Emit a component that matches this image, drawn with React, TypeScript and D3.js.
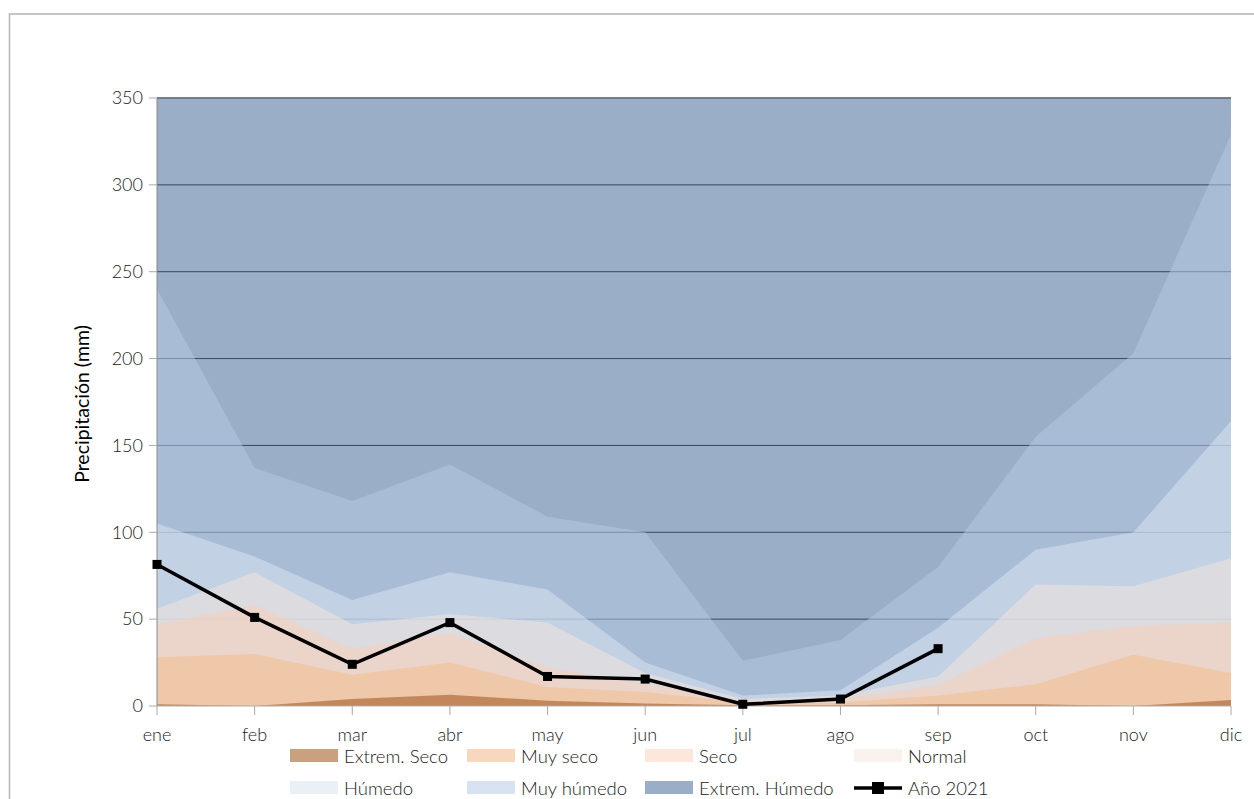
import * as d3 from 'd3';
import { useEffect, useRef } from 'react';

const months = ['ene', 'feb', 'mar', 'abr', 'may', 'jun', 'jul', 'ago', 'sep', 'oct', 'nov', 'dic'];

// upper bound of each band (mm); bands are drawn from 0 and overlap
const extremHumedo = [350, 350, 350, 350, 350, 350, 350, 350, 350, 350, 350, 350];
const muyHumedo = [240, 137, 118, 139, 109, 100, 26, 38, 80, 155, 203, 329];
const humedo = [105, 86, 61, 77, 67, 25, 6, 9, 45, 90, 100, 164];
const normal = [56, 77, 47, 53, 48, 19, 4, 6, 17, 70, 69, 85];
const seco = [47, 58, 33, 42, 22, 13, 3, 4, 12, 39, 46, 48];
const muySeco = [28, 30, 18, 25, 11, 8, 2, 2, 6, 12.5, 29.5, 19];
const extremSeco = [1, 0, 4, 6.5, 3, 1.5, 0.5, 0.5, 1, 1, 0, 3.5];
const anio2021 = [81.5, 51, 24, 48, 17, 15.5, 1, 4, 33];

const yTicks = [0, 50, 100, 150, 200, 250, 300, 350];

const WIDTH = 1254;
const HEIGHT = 799;
const FONT = 'Lato, "Open Sans", sans-serif';

const bands = [
  { name: 'Extrem. Húmedo', values: extremHumedo, color: 'rgb(87,120,163)', opacity: 0.6 },
  { name: 'Muy húmedo', values: muyHumedo, color: 'rgb(182,201,227)', opacity: 0.535 },
  { name: 'Húmedo', values: humedo, color: 'rgb(218,227,240)', opacity: 0.535 },
  { name: 'Normal', values: normal, color: 'rgb(246,229,218)', opacity: 0.5 },
  { name: 'Seco', values: seco, color: 'rgb(249,207,181)', opacity: 0.5 },
  { name: 'Muy seco', values: muySeco, color: 'rgb(242,190,147)', opacity: 0.6 },
  { name: 'Extrem. Seco', values: extremSeco, color: 'rgb(162,91,36)', opacity: 0.58 },
];

export default function App() {
  const svgRef = useRef<SVGSVGElement>(null);

  useEffect(() => {
    if (!svgRef.current) return;
    const svg = d3.select(svgRef.current);
    svg.selectAll('*').remove();

    const margin = { top: 98, right: 23, bottom: 93, left: 157 };
    const innerWidth = WIDTH - margin.left - margin.right;
    const innerHeight = HEIGHT - margin.top - margin.bottom;

    // outer frame
    svg
      .append('rect')
      .attr('x', 9.5)
      .attr('y', 14)
      .attr('width', WIDTH + 20)
      .attr('height', HEIGHT + 20)
      .attr('fill', 'none')
      .attr('stroke', '#b8b8b8')
      .attr('stroke-width', 1.6);

    const g = svg.append('g').attr('transform', `translate(${margin.left},${margin.top})`);

    const x = d3.scalePoint<string>().domain(months).range([0, innerWidth]);
    const y = d3.scaleLinear().domain([0, 350]).range([innerHeight, 0]);

    // grid lines sit under the translucent bands
    g.selectAll('.grid-line')
      .data(yTicks.filter((d) => d > 0))
      .enter()
      .append('line')
      .attr('x1', 0)
      .attr('x2', innerWidth)
      .attr('y1', (d) => y(d))
      .attr('y2', (d) => y(d))
      .attr('stroke', '#000')
      .attr('stroke-width', 1);

    const area = d3
      .area<number>()
      .x((_, i) => x(months[i]) || 0)
      .y0(y(0))
      .y1((d) => y(d));

    bands.forEach((b) => {
      g.append('path')
        .attr('d', area(b.values))
        .attr('fill', b.color)
        .attr('fill-opacity', b.opacity);
    });

    // Axes
    g.append('line')
      .attr('x1', 0)
      .attr('x2', 0)
      .attr('y1', 0)
      .attr('y2', innerHeight)
      .attr('stroke', '#8a8a8a');
    g.append('line')
      .attr('x1', 0)
      .attr('x2', innerWidth)
      .attr('y1', innerHeight)
      .attr('y2', innerHeight)
      .attr('stroke', '#b0b0b0');

    g.selectAll('.ytick')
      .data(yTicks)
      .enter()
      .append('line')
      .attr('x1', -8)
      .attr('x2', 0)
      .attr('y1', (d) => y(d))
      .attr('y2', (d) => y(d))
      .attr('stroke', '#aaa');

    g.selectAll('.ylabel')
      .data(yTicks)
      .enter()
      .append('text')
      .attr('x', -14)
      .attr('y', (d) => y(d))
      .attr('dy', '0.35em')
      .attr('text-anchor', 'end')
      .attr('fill', '#222')
      .style('font-family', FONT)
      .style('font-weight', 300)
      .style('font-size', '18px')
      .text((d) => d);

    g.selectAll('.xtick')
      .data(months)
      .enter()
      .append('line')
      .attr('x1', (d) => x(d) || 0)
      .attr('x2', (d) => x(d) || 0)
      .attr('y1', innerHeight)
      .attr('y2', innerHeight + 9)
      .attr('stroke', '#aaa');

    g.selectAll('.xlabel')
      .data(months)
      .enter()
      .append('text')
      .attr('x', (d) => x(d) || 0)
      .attr('y', innerHeight + 35)
      .attr('text-anchor', 'middle')
      .attr('fill', '#222')
      .style('font-family', FONT)
      .style('font-weight', 300)
      .style('font-size', '18px')
      .text((d) => d);

    svg
      .append('text')
      .attr('transform', `translate(89, ${margin.top + innerHeight / 2 + 2}) rotate(-90)`)
      .attr('text-anchor', 'middle')
      .attr('fill', '#000')
      .style('font-family', FONT)
      .style('font-size', '19.5px')
      .text('Precipitación (mm)');

    // Año 2021 line
    const line = d3
      .line<number>()
      .x((_, i) => x(months[i]) || 0)
      .y((d) => y(d));

    g.append('path')
      .attr('d', line(anio2021))
      .attr('fill', 'none')
      .attr('stroke', '#000')
      .attr('stroke-width', 3.5)
      .attr('stroke-linejoin', 'miter');

    g.selectAll('.marker')
      .data(anio2021)
      .enter()
      .append('rect')
      .attr('x', (_, i) => (x(months[i]) || 0) - 4.5)
      .attr('y', (d) => y(d) - 4.5)
      .attr('width', 9)
      .attr('height', 9)
      .attr('fill', '#000');

    // Legend
    const legendItems = [
      { name: 'Extrem. Seco', band: bands[6], col: 0, row: 0 },
      { name: 'Muy seco', band: bands[5], col: 1, row: 0 },
      { name: 'Seco', band: bands[4], col: 2, row: 0 },
      { name: 'Normal', band: bands[3], col: 3, row: 0 },
      { name: 'Húmedo', band: bands[2], col: 0, row: 1 },
      { name: 'Muy húmedo', band: bands[1], col: 1, row: 1 },
      { name: 'Extrem. Húmedo', band: bands[0], col: 2, row: 1 },
      { name: 'Año 2021', band: null, col: 3, row: 1 },
    ];
    const colX = [290, 467, 645, 854];
    const rowY = [749, 781];

    const legend = svg.append('g');
    legendItems.forEach((item) => {
      const lx = colX[item.col];
      const ly = rowY[item.row];
      if (item.band) {
        legend
          .append('rect')
          .attr('x', lx)
          .attr('y', ly)
          .attr('width', 48)
          .attr('height', 13)
          .attr('fill', item.band.color)
          .attr('fill-opacity', item.band.opacity);
      } else {
        legend
          .append('line')
          .attr('x1', lx)
          .attr('x2', lx + 48)
          .attr('y1', ly + 7)
          .attr('y2', ly + 7)
          .attr('stroke', '#000')
          .attr('stroke-width', 3.5);
        legend
          .append('rect')
          .attr('x', lx + 18)
          .attr('y', ly + 1)
          .attr('width', 12)
          .attr('height', 12)
          .attr('fill', '#000');
      }
      legend
        .append('text')
        .attr('x', lx + 54)
        .attr('y', ly + 14)
        .attr('fill', '#222')
        .style('font-family', FONT)
        .style('font-weight', 300)
        .style('font-size', '18.5px')
        .text(item.name);
    });
  }, []);

  return (
    <svg
      ref={svgRef}
      width={WIDTH}
      height={HEIGHT}
      style={{ position: 'absolute', left: 0, top: 0, background: '#fff' }}
    />
  );
}
